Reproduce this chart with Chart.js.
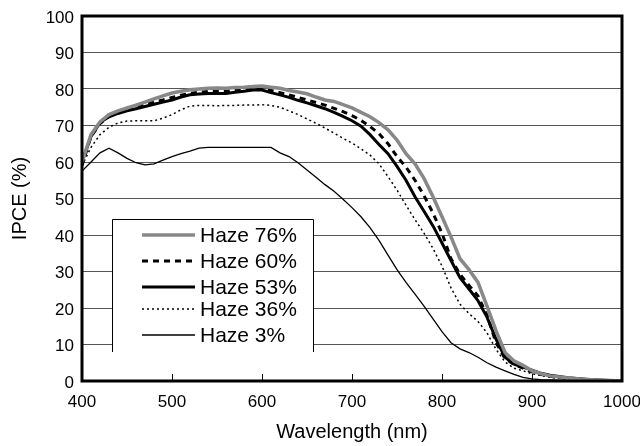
<!DOCTYPE html>
<html>
<head>
<meta charset="utf-8">
<script src="https://cdn.jsdelivr.net/npm/chart.js@4.4.0/dist/chart.umd.min.js"></script>
<style>
  html, body { margin: 0; padding: 0; background: #fff; }
  canvas { display: block; }
</style>
</head>
<body>
<canvas id="ipce-chart" width="640" height="446"></canvas>
<script>
// wavelength samples (nm), shared by every series
const wavelengths = [400, 410, 420, 430, 440, 450, 460, 470, 480, 490,
    500, 510, 520, 530, 540, 550, 560, 570, 580, 590,
    600, 610, 620, 630, 640, 650, 660, 670, 680, 690,
    700, 710, 720, 730, 740, 750, 760, 770, 780, 790,
    800, 810, 820, 830, 840, 850, 860, 870, 880, 890,
    900, 910, 920, 940, 960, 980, 1000];

// IPCE (%)
const haze76 = [60, 67.5, 71, 73, 74, 74.8, 75.6, 76.4, 77.3, 78.1,
    78.9, 79.4, 79.8, 80, 80.2, 80.3, 80.2, 80.4, 80.5, 80.7,
    80.8, 80.5, 80.2, 79.6, 79.2, 78.7, 77.8, 77, 76.6, 75.7,
    74.8, 73.6, 72.4, 70.8, 68.8, 66, 62.3, 59.5, 55.5, 50.5,
    45, 39.5, 33.5, 30.5, 27, 20.5, 13.8, 7.8, 5.5, 4.3,
    2.8, 2, 1.4, 0.8, 0.4, 0.2, 0];
const haze60 = [59, 67, 70.5, 72.5, 73.5, 74.3, 75, 75.7, 76.4, 77,
    77.7, 78.3, 78.8, 79.1, 79.3, 79.3, 79.4, 79.6, 79.8, 79.9,
    80, 79.6, 79, 78.4, 77.7, 77, 76.3, 75.6, 74.7, 73.8,
    72.7, 71.4, 69.7, 67.8, 65, 61.5, 58.6, 55, 50.8, 46,
    40.5, 33.5, 29.2, 26.2, 23.3, 18, 10.5, 6.2, 4.5, 3.5,
    2.5, 1.8, 1.3, 0.7, 0.3, 0.1, 0];
const haze53 = [60, 67, 70.8, 72.4, 73.3, 74, 74.6, 75.2, 75.8, 76.4,
    77, 77.8, 78.4, 78.6, 78.8, 78.8, 78.8, 79.1, 79.4, 79.7,
    79.7, 79, 78.4, 77.7, 76.9, 76.2, 75.4, 74.6, 73.6, 72.5,
    71.3, 69.8, 67.5, 64.8, 62.3, 58.8, 55, 50.5, 46.5, 42.5,
    37.8, 33, 28.3, 25.2, 22, 17.5, 11.5, 6.5, 4.6, 3.8,
    3, 2.1, 1.6, 0.9, 0.5, 0.2, 0];
const haze36 = [59, 64, 67.5, 69.5, 70.7, 71.2, 71.3, 71.3, 71.3, 72,
    73, 74.3, 75.3, 75.5, 75.5, 75.4, 75.5, 75.5, 75.6, 75.6,
    75.7, 75.5, 75, 74, 73, 71.8, 70.6, 69.3, 67.9, 66.5,
    65.2, 63.6, 61.9, 59.5, 56, 52.3, 48.2, 44.2, 40.5, 36.3,
    31.5, 25.5, 21, 18.5, 16.3, 13.2, 8.7, 5.2, 3.5, 2.8,
    2, 1.5, 1, 0.5, 0.2, 0.1, 0];
const haze3 = [57.5, 60, 62.5, 63.8, 62.5, 61, 59.8, 59.2, 59.5, 60.5,
    61.5, 62.3, 63, 63.8, 64, 64, 64, 64, 64, 64,
    64, 64, 62.5, 61.5, 59.8, 57.8, 55.8, 53.8, 52, 49.8,
    47.5, 45, 42, 38.5, 34.5, 30.5, 27, 23.8, 20.5, 17,
    13.5, 10.5, 8.8, 7.8, 6.5, 5, 3.8, 2.8, 1.8, 1,
    0.6, 0.4, 0.3, 0.15, 0.1, 0, 0];

const seriesLabels = ['Haze 76%', 'Haze 60%', 'Haze 53%', 'Haze 36%', 'Haze 3%'];
const xTicks = [400, 500, 600, 700, 800, 900, 1000];
const yTicks = [0, 10, 20, 30, 40, 50, 60, 70, 80, 90, 100];

const FONT = '"Liberation Sans", Arial, Helvetica, sans-serif';

function toPoints(values) {
    return wavelengths.map((w, i) => ({ x: w, y: values[i] }));
}

// frame, inward x ticks and the boxed legend
const decorPlugin = {
    id: 'decor',
    afterDraw(chart) {
        const ctx = chart.ctx;
        const a = chart.chartArea;
        const xs = chart.scales.x;
        ctx.save();

        // small ticks pointing up into the plot
        ctx.strokeStyle = '#000';
        ctx.lineWidth = 1;
        xTicks.slice(1, -1).forEach(v => {
            const px = Math.round(xs.getPixelForValue(v)) + 0.5;
            ctx.beginPath();
            ctx.moveTo(px, a.bottom);
            ctx.lineTo(px, a.bottom - 7);
            ctx.stroke();
        });

        // legend box (open at the bottom)
        const bl = a.left + 30, br = a.left + 231, bt = 219, bb = 352;
        ctx.fillStyle = '#fff';
        ctx.fillRect(bl, bt, br - bl, bb - bt);
        ctx.strokeStyle = '#000';
        ctx.lineWidth = 1;
        ctx.beginPath();
        ctx.moveTo(bl + 0.5, bb);
        ctx.lineTo(bl + 0.5, bt + 0.5);
        ctx.lineTo(br + 0.5, bt + 0.5);
        ctx.lineTo(br + 0.5, bb);
        ctx.stroke();

        const rows = [235, 261, 287, 309, 335];
        ctx.font = '21px ' + FONT;
        ctx.textBaseline = 'middle';
        ctx.textAlign = 'left';
        chart.data.datasets.forEach((ds, i) => {
            const y = rows[i];
            ctx.strokeStyle = ds.borderColor;
            ctx.lineWidth = ds.borderWidth;
            ctx.setLineDash(ds.borderDash || []);
            ctx.beginPath();
            ctx.moveTo(bl + 30, y);
            ctx.lineTo(bl + 83, y);
            ctx.stroke();
            ctx.setLineDash([]);
            ctx.fillStyle = '#000';
            ctx.fillText(ds.label, bl + 88, y + 1);
        });

        // heavy frame round the plot
        ctx.strokeStyle = '#000';
        ctx.lineWidth = 3;
        ctx.strokeRect(a.left, a.top, a.right - a.left, a.bottom - a.top);
        ctx.restore();
    }
};

const ctx = document.getElementById('ipce-chart').getContext('2d');

new Chart(ctx, {
    type: 'line',
    data: {
        datasets: [
            { label: seriesLabels[0], data: toPoints(haze76), borderColor: '#888888', borderWidth: 3.5 },
            { label: seriesLabels[1], data: toPoints(haze60), borderColor: '#000', borderWidth: 3, borderDash: [6, 5] },
            { label: seriesLabels[2], data: toPoints(haze53), borderColor: '#000', borderWidth: 3 },
            { label: seriesLabels[3], data: toPoints(haze36), borderColor: '#000', borderWidth: 1.5, borderDash: [2, 3] },
            { label: seriesLabels[4], data: toPoints(haze3), borderColor: '#000', borderWidth: 1.3 }
        ]
    },
    options: {
        responsive: false,
        animation: false,
        devicePixelRatio: 1,
        layout: { padding: { top: 16, right: 18, left: 0, bottom: 0 } },
        elements: {
            point: { radius: 0 },
            line: { tension: 0, fill: false }
        },
        plugins: {
            legend: { display: false },
            tooltip: { enabled: false }
        },
        scales: {
            x: {
                type: 'linear',
                min: 400,
                max: 1000,
                afterBuildTicks: s => { s.ticks = xTicks.map(v => ({ value: v })); },
                afterFit: s => { s.height = 65; s.paddingLeft = 0; s.paddingRight = 0; },
                grid: { display: false },
                border: { display: false },
                ticks: {
                    color: '#000',
                    font: { family: FONT, size: 17 },
                    padding: 3,
                    maxRotation: 0,
                    callback: v => String(v)
                },
                title: {
                    display: true,
                    text: 'Wavelength (nm)',
                    color: '#000',
                    font: { family: FONT, size: 20 },
                    padding: { top: 0, bottom: 2 }
                }
            },
            y: {
                min: 0,
                max: 100,
                afterBuildTicks: s => { s.ticks = yTicks.map(v => ({ value: v })); },
                afterFit: s => { s.width = 82; s.paddingTop = 0; s.paddingBottom = 0; },
                grid: { color: '#555', lineWidth: 1, drawTicks: false },
                border: { display: false },
                ticks: { color: '#000', font: { family: FONT, size: 17 }, padding: 8, labelOffset: 2 },
                title: {
                    display: true,
                    text: 'IPCE (%)',
                    color: '#000',
                    font: { family: FONT, size: 20 },
                    padding: { top: 8, bottom: 0 }
                }
            }
        }
    },
    plugins: [decorPlugin]
});
</script>
</body>
</html>
